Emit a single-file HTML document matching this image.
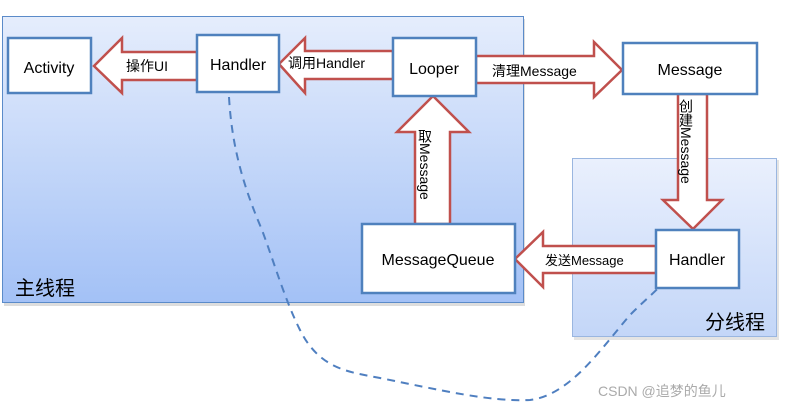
<!DOCTYPE html>
<html><head><meta charset="utf-8"><style>
body{margin:0;width:785px;height:409px;background:#fff;overflow:hidden;font-family:"Liberation Sans","Noto Sans CJK SC",sans-serif}
</style></head><body>
<svg width="785" height="409" xmlns="http://www.w3.org/2000/svg" font-family="Liberation Sans, Noto Sans CJK SC, sans-serif">
<defs>
<linearGradient id="g1" x1="0" y1="0" x2="0" y2="1"><stop offset="0" stop-color="#e5edfc"/><stop offset="1" stop-color="#a3c1f6"/></linearGradient>
<linearGradient id="g2" x1="0" y1="0" x2="0" y2="1"><stop offset="0" stop-color="#eaf0fd"/><stop offset="1" stop-color="#c3d6f8"/></linearGradient>
</defs>
<rect x="4" y="19" width="521" height="287" fill="#bbb" opacity="0.5"/>
<rect x="2.5" y="16.5" width="521" height="286" fill="url(#g1)" stroke="#5b8bc9"/>
<rect x="574" y="160" width="205" height="180" fill="#bbb" opacity="0.4"/>
<rect x="572.5" y="158.5" width="204" height="178" fill="url(#g2)" stroke="#9ab6e0"/>
<path d="M229,97 C232,150 245,190 262,230 C275,265 285,300 300,330 C320,370 350,372 380,378 C440,390 490,402 530,400 C570,395 600,350 630,315 C645,300 655,292 660,286" fill="none" stroke="#4f7fc0" stroke-width="2" stroke-dasharray="8,6"/>
<g fill="#fff" stroke="#c0504d" stroke-width="2.5">
<polygon points="197,52 122,52 122,38 94,66 122,93 122,80 197,80"/>
<polygon points="393,51 305,51 305,38 279,64 305,93 305,79 393,79"/>
<polygon points="476,56 594,56 594,42 622,70 594,97 594,83 476,83"/>
<polygon points="678,94 678,200 663,200 693,229 722,200 707,200 707,94"/>
<polygon points="415,224 415,132 397,132 433,96 469,132 450,132 450,224"/>
<polygon points="656,246 543,246 543,232 515,259 543,287 543,273 656,273"/>
</g>
<g fill="#fff" stroke="#4f81bd" stroke-width="2.5">
<rect x="8" y="38" width="83" height="55"/>
<rect x="197" y="35" width="82" height="57"/>
<rect x="393" y="38" width="83" height="58"/>
<rect x="623" y="43" width="134" height="51"/>
<rect x="362" y="224" width="153" height="69"/>
<rect x="656" y="230" width="83" height="58"/>
</g>
<g font-size="16" fill="#000" text-anchor="middle">
<text x="49" y="73">Activity</text>
<text x="238" y="70">Handler</text>
<text x="434" y="74">Looper</text>
<text x="690" y="75">Message</text>
<text x="438" y="265">MessageQueue</text>
<text x="697" y="265">Handler</text>
</g>
<g font-size="14" fill="#000">
<text x="126" y="71">操作UI</text>
<text x="288" y="68">调用Handler</text>
<text x="492" y="76">清理Message</text>
<text x="545" y="265" font-size="13">发送Message</text>
<text x="15" y="295" font-size="20">主线程</text>
<text x="705" y="329" font-size="20">分线程</text>
<text x="598" y="396" font-size="14" fill="#aaa">CSDN @追梦的鱼儿</text>
</g>
<text x="425" y="129" font-size="14" style="writing-mode:vertical-rl;text-orientation:mixed">取Message</text>
<text x="686" y="99" font-size="14" style="writing-mode:vertical-rl;text-orientation:mixed">创建Message</text>
</svg>
</body></html>
